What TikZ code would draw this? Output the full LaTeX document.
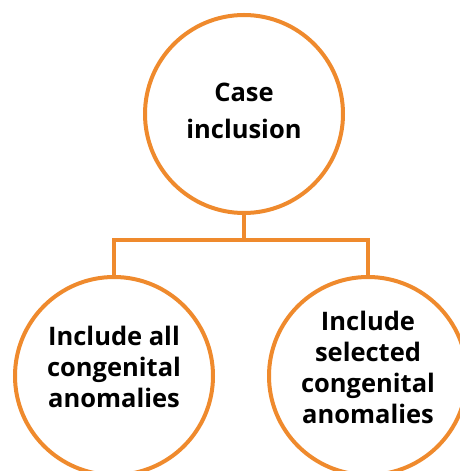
\documentclass[tikz,border=0pt]{standalone}
\usepackage{fontspec}
\setmainfont{Open Sans}
\usetikzlibrary{positioning}
\definecolor{caseorange}{RGB}{239,138,45}

\begin{document}
\begin{tikzpicture}[x=1pt, y=1pt,
    bubble/.style={circle, draw=caseorange, line width=4pt, fill=white,
      minimum size=198pt, inner sep=0pt},
    caption/.style={align=center, inner sep=0pt,
      font=\bfseries\fontsize{25.5}{31}\selectfont},
    link/.style={draw=caseorange, line width=4pt}]
    \useasboundingbox (0,0) rectangle (460,471);
    \node[bubble] (incl) at (244,357) {};
    \node[bubble] (all) at (114,95) {};
    \node[bubble] (sel) at (368,95) {};
    \node[caption, font=\bfseries\fontsize{25.5}{37}\selectfont] (incltext) at ([yshift=3pt]incl.center) {Case\\inclusion};
    \node[caption] (alltext) at ([yshift=9pt]all.center) {Include all\\congenital\\anomalies};
    \node[caption] (seltext) at ([yshift=9pt]sel.center) {Include\\selected\\congenital\\anomalies};
    \coordinate (fork) at (244,231);
    \draw[link] (incl.south) -- (fork);
    \draw[link] (fork) -| (all.north);
    \draw[link] (fork) -| (sel.north);
\end{tikzpicture}
\end{document}
